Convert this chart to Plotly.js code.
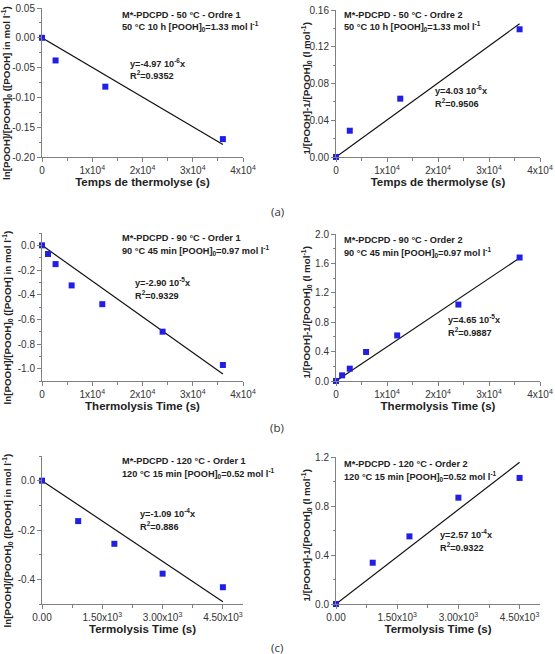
<!DOCTYPE html>
<html>
<head>
<meta charset="utf-8">
<script src="https://cdn.plot.ly/plotly-3.0.1.min.js"></script>
<style>
  html, body { margin: 0; padding: 0; background: #fff; }
  #chart { width: 555px; height: 654px; }
</style>
</head>
<body>
<div id="chart"></div>
<script>
// Thermolysis time (s) for each temperature series
const time50 = [0, 2700, 12600, 36000];
const time90 = [0, 1200, 2700, 5900, 12000, 24000, 36000];
const time120 = [0, 900, 1800, 3000, 4500];

// First-order plots: ln([POOH]/[POOH]0)
const order1_50 = [0, -0.038, -0.082, -0.170];
const order1_90 = [0, -0.07, -0.152, -0.325, -0.477, -0.70, -0.97];
const order1_120 = [0, -0.164, -0.256, -0.377, -0.432];

// Second-order plots: 1/[POOH] - 1/[POOH]0
const order2_50 = [0, 0.0286, 0.0635, 0.139];
const order2_90 = [0, 0.077, 0.168, 0.395, 0.62, 1.04, 1.68];
const order2_120 = [0, 0.337, 0.552, 0.868, 1.029];

// Fitted slopes (linear fit through origin) and R²
const slopes = [-4.97e-6, 4.03e-6, -2.90e-5, 4.65e-5, -1.09e-4, 2.57e-4];
const slopeText = ['y=-4.97 10<sup>-6</sup>x', 'y=4.03 10<sup>-6</sup>x', 'y=-2.90 10<sup>-5</sup>x',
                   'y=4.65 10<sup>-5</sup>x', 'y=-1.09 10<sup>-4</sup>x', 'y=2.57 10<sup>-4</sup>x'];
const r2Text = ['0.9352', '0.9506', '0.9329', '0.9887', '0.886', '0.9322'];

// Panel headers
const headers = [
  ['M*-PDCPD - 50 °C - Ordre 1', '50 °C 10 h [POOH]<sub>0</sub>=1.33 mol l<sup>-1</sup>'],
  ['M*-PDCPD - 50 °C - Ordre 2', '50 °C 10 h [POOH]<sub>0</sub>=1.33 mol l<sup>-1</sup>'],
  ['M*-PDCPD - 90 °C - Order 1', '90 °C 45 min [POOH]<sub>0</sub>=0.97 mol l<sup>-1</sup>'],
  ['M*-PDCPD - 90 °C - Order 2', '90 °C 45 min [POOH]<sub>0</sub>=0.97 mol l<sup>-1</sup>'],
  ['M*-PDCPD - 120 °C - Order 1', '120 °C 15 min [POOH]<sub>0</sub>=0.52 mol l<sup>-1</sup>'],
  ['M*-PDCPD - 120 °C - Order 2', '120 °C 15 min [POOH]<sub>0</sub>=0.52 mol l<sup>-1</sup>']
];
const xTitles = ['Temps de thermolyse (s)', 'Temps de thermolyse (s)',
                 'Thermolysis Time (s)', 'Thermolysis Time (s)',
                 'Termolysis Time (s)', 'Termolysis Time (s)'];
const yTitle1 = 'ln[POOH]/[POOH]<sub>0</sub> ([POOH] in mol l<sup>-1</sup>)';
const yTitle2 = '1/[POOH]-1/[POOH]<sub>0</sub> (l mol<sup>-1</sup>)';
const panelTags = ['(a)', '(b)', '(c)'];

// Tick labels
const xTickVals4 = [0, 10000, 20000, 30000, 40000];
const xTickText4 = ['0', '1x10<sup>4</sup>', '2x10<sup>4</sup>', '3x10<sup>4</sup>', '4x10<sup>4</sup>'];
const xTickVals3 = [0, 1500, 3000, 4500];
const xTickText3 = ['0.00', '1.50x10<sup>3</sup>', '3.00x10<sup>3</sup>', '4.50x10<sup>3</sup>'];

const W = 555, H = 654;
// Plot boxes in pixels: [left, right, top, bottom]
const boxes = [
  [42, 243, 8, 157], [336, 540, 10, 157],
  [42, 243, 233, 381], [336, 540, 234, 381],
  [42, 243, 456, 604], [336, 540, 457, 604]
];
const yAxisCfg = [
  {range: [-0.2, 0.05], dtick: 0.05, minor: 0.025, fmt: v => v.toFixed(2)},
  {range: [0, 0.16], dtick: 0.04, minor: 0.02, fmt: v => v.toFixed(2)},
  {range: [-1.1, 0.1], dtick: 0.2, minor: 0.1, fmt: v => v.toFixed(1), start: -1.0, end: 0.0},
  {range: [0, 2.0], dtick: 0.4, minor: 0.2, fmt: v => v.toFixed(1)},
  {range: [-0.5, 0.1], dtick: 0.2, minor: 0.1, fmt: v => v.toFixed(1), start: -0.4, end: 0.0},
  {range: [0, 1.2], dtick: 0.4, minor: 0.2, fmt: v => v.toFixed(1)}
];

const series = [
  [time50, order1_50], [time50, order2_50],
  [time90, order1_90], [time90, order2_90],
  [time120, order1_120], [time120, order2_120]
];

const FONT = 'Arial, "Liberation Sans", sans-serif';
const AXC = '#808080';
const traces = [];
const layout = {
  width: W, height: H,
  margin: {l: 0, r: 0, t: 0, b: 0},
  paper_bgcolor: '#fff', plot_bgcolor: 'rgba(0,0,0,0)',
  showlegend: false,
  font: {family: FONT, color: '#333'},
  annotations: []
};

function px(x) { return x / W; }
function py(y) { return 1 - y / H; }

series.forEach((s, i) => {
  const n = i + 1;
  const xa = 'x' + (n === 1 ? '' : n), ya = 'y' + (n === 1 ? '' : n);
  const b = boxes[i];
  const cfg = yAxisCfg[i];
  const small = i >= 4;
  const xs = s[0];
  const xmax = xs[xs.length - 1];

  // fitted line through the origin
  traces.push({
    x: [0, xmax], y: [0, slopes[i] * xmax],
    xaxis: xa, yaxis: ya, mode: 'lines',
    line: {color: '#111', width: 1.2}, hoverinfo: 'skip', cliponaxis: false
  });
  // measured points
  traces.push({
    x: xs, y: s[1], xaxis: xa, yaxis: ya, mode: 'markers',
    marker: {symbol: 'square', size: 6, color: '#1f1fe6'}, cliponaxis: false
  });

  // y tick values
  const yv = [], yt = [];
  const st = cfg.start !== undefined ? cfg.start : cfg.range[0];
  const en = cfg.end !== undefined ? cfg.end : cfg.range[1];
  for (let v = st; v <= en + 1e-9; v += cfg.dtick) {
    yv.push(+v.toFixed(4)); yt.push(cfg.fmt(+v.toFixed(4)));
  }

  const axCommon = {
    showgrid: false, zeroline: false, showline: true, linecolor: AXC, linewidth: 1,
    ticks: 'outside', ticklen: 4, tickwidth: 1, tickcolor: AXC,
    tickfont: {family: FONT, size: 10, color: '#333'}, mirror: false
  };

  layout['xaxis' + (n === 1 ? '' : n)] = Object.assign({}, axCommon, {
    domain: [px(b[0]), px(b[1])], anchor: ya,
    range: small ? [0, 5000] : [0, 40000],
    tickmode: 'array',
    tickvals: small ? xTickVals3 : xTickVals4,
    ticktext: small ? xTickText3 : xTickText4,
    minor: {tickmode: 'linear', tick0: 0, dtick: small ? 750 : 5000, ticklen: 2.5, tickcolor: AXC, ticks: 'outside'},
    title: {text: xTitles[i], font: {family: FONT, size: 11.5, color: '#222', weight: 'bold'}, standoff: 1}
  });
  layout['yaxis' + (n === 1 ? '' : n)] = Object.assign({}, axCommon, {
    domain: [py(b[3]), py(b[2])], anchor: xa,
    range: cfg.range,
    tickmode: 'array', tickvals: yv, ticktext: yt,
    minor: {tickmode: 'linear', tick0: 0, dtick: cfg.minor, ticklen: 2.5, tickcolor: AXC, ticks: 'outside'}
  });

  // rotated y-axis title
  const isOrder1 = (i % 2 === 0);
  layout.annotations.push({
    xref: 'paper', yref: 'paper',
    x: px(isOrder1 ? 6.5 : 306), y: py(isOrder1 ? (b[2] + b[3]) / 2 + 11 : (b[2] + b[3]) / 2 + 5),
    text: isOrder1 ? yTitle1 : yTitle2, textangle: -90,
    showarrow: false, xanchor: 'center', yanchor: 'middle',
    font: {family: FONT, size: 9.8, color: '#222', weight: 'bold'}
  });

  // header text lines
  const hx = isOrder1 ? 120 : 342;
  const hy = [[15, 27], [15, 27], [238, 250.5], [239.5, 252], [461, 473.5], [464, 476]][i];
  headers[i].forEach((t, k) => {
    layout.annotations.push({
      xref: 'paper', yref: 'paper', x: px(hx), y: py(hy[k]),
      text: t, showarrow: false, xanchor: 'left', yanchor: 'middle',
      font: {family: FONT, size: 9.2, color: '#222', weight: 'bold'}
    });
  });

  // fit equation and R²
  const ex = [128, 433, 133, 446, 138, 438][i];
  const ey = [[63, 75.5], [90, 102.5], [282, 295], [319, 332], [513, 526], [534, 547]][i];
  [slopeText[i], 'R<sup>2</sup>=' + r2Text[i]].forEach((t, k) => {
    layout.annotations.push({
      xref: 'paper', yref: 'paper', x: px(ex), y: py(ey[k]),
      text: t, showarrow: false, xanchor: 'left', yanchor: 'middle',
      font: {family: FONT, size: 9.2, color: '#222', weight: 'bold'}
    });
  });
});

// panel tags
[211, 427, 647].forEach((y, k) => {
  layout.annotations.push({
    xref: 'paper', yref: 'paper', x: px(277), y: py(y),
    text: panelTags[k], showarrow: false, xanchor: 'center', yanchor: 'middle',
    font: {family: '"Open Sans", "Noto Sans", sans-serif', size: 11.5, color: '#333'}
  });
});

Plotly.newPlot('chart', traces, layout, {staticPlot: true, displayModeBar: false});
</script>
</body>
</html>
